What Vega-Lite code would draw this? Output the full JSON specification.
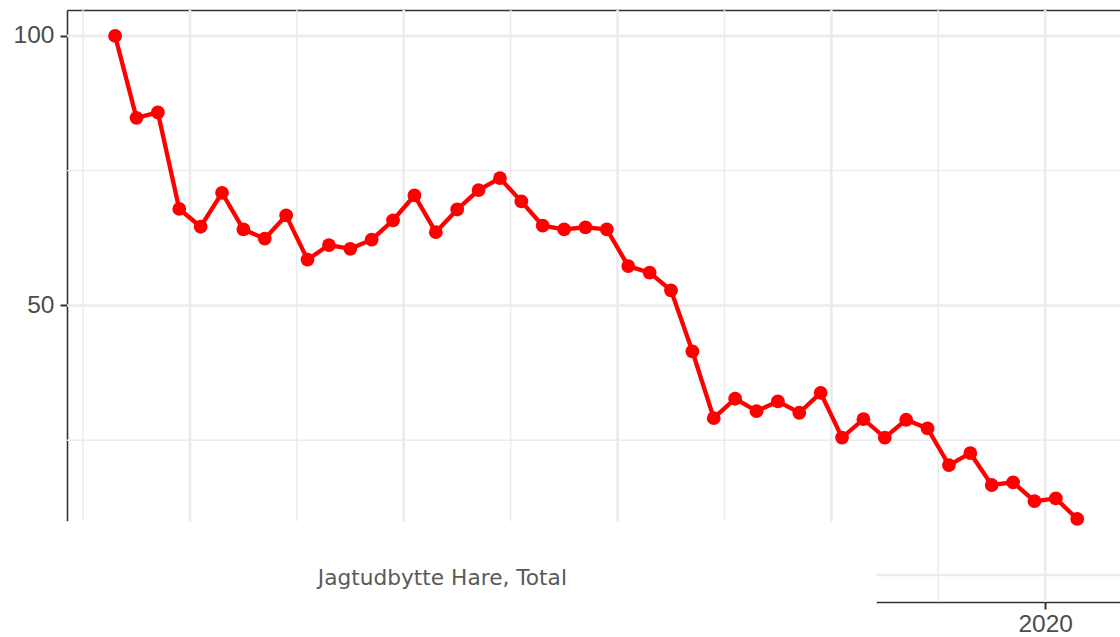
{
  "$schema": "https://vega.github.io/schema/vega-lite/v6.json",
  "width": 1053,
  "height": 592,
  "autosize": {"type": "none"},
  "padding": {"left": 67, "top": 10, "right": 0, "bottom": 35},
  "background": "white",
  "config": {
    "view": {"stroke": null},
    "axis": {
      "grid": false,
      "domainColor": "#333333",
      "domainWidth": 1.6,
      "tickColor": "#333333",
      "tickWidth": 2,
      "tickSize": 7,
      "labelFont": "Liberation Sans",
      "labelFontSize": 24.5,
      "labelColor": "#4D4D4D",
      "labelPadding": 6
    }
  },
  "datasets": {
    "hare": [
      {"year": 1976.5, "value": 100},
      {"year": 1977.5, "value": 84.8},
      {"year": 1978.5, "value": 85.8},
      {"year": 1979.5, "value": 67.9},
      {"year": 1980.5, "value": 64.6},
      {"year": 1981.5, "value": 70.9},
      {"year": 1982.5, "value": 64.1},
      {"year": 1983.5, "value": 62.4},
      {"year": 1984.5, "value": 66.7},
      {"year": 1985.5, "value": 58.5},
      {"year": 1986.5, "value": 61.2},
      {"year": 1987.5, "value": 60.5},
      {"year": 1988.5, "value": 62.2},
      {"year": 1989.5, "value": 65.8},
      {"year": 1990.5, "value": 70.4},
      {"year": 1991.5, "value": 63.6},
      {"year": 1992.5, "value": 67.8},
      {"year": 1993.5, "value": 71.4},
      {"year": 1994.5, "value": 73.6},
      {"year": 1995.5, "value": 69.3},
      {"year": 1996.5, "value": 64.8},
      {"year": 1997.5, "value": 64.1},
      {"year": 1998.5, "value": 64.5},
      {"year": 1999.5, "value": 64.1},
      {"year": 2000.5, "value": 57.3},
      {"year": 2001.5, "value": 56.1},
      {"year": 2002.5, "value": 52.8},
      {"year": 2003.5, "value": 41.5},
      {"year": 2004.5, "value": 29.1},
      {"year": 2005.5, "value": 32.7},
      {"year": 2006.5, "value": 30.4},
      {"year": 2007.5, "value": 32.2},
      {"year": 2008.5, "value": 30.1},
      {"year": 2009.5, "value": 33.8},
      {"year": 2010.5, "value": 25.5},
      {"year": 2011.5, "value": 28.9},
      {"year": 2012.5, "value": 25.5},
      {"year": 2013.5, "value": 28.8},
      {"year": 2014.5, "value": 27.2},
      {"year": 2015.5, "value": 20.4},
      {"year": 2016.5, "value": 22.6},
      {"year": 2017.5, "value": 16.7},
      {"year": 2018.5, "value": 17.2},
      {"year": 2019.5, "value": 13.7},
      {"year": 2020.5, "value": 14.2},
      {"year": 2021.5, "value": 10.4}
    ],
    "gridMajorY": [{"value": 0}, {"value": 50}, {"value": 100}],
    "gridMinorY": [{"value": 25}, {"value": 75}],
    "gridMajorX": [{"year": 1980}, {"year": 1990}, {"year": 2000}, {"year": 2010}, {"year": 2020}],
    "gridMinorX": [{"year": 1975}, {"year": 1985}, {"year": 1995}, {"year": 2005}, {"year": 2015}],
    "mask": [{"year": 1970, "year2": 2012.12, "value": -15, "value2": 10}],
    "label": [{"year": 1985.98, "value": -1.78, "label": "Jagtudbytte Hare, Total"}]
  },
  "layer": [
    {
      "data": {"name": "gridMinorX"},
      "mark": {"type": "rule", "color": "#EBEBEB", "strokeWidth": 1.4},
      "encoding": {
        "x": {
          "field": "year", "type": "quantitative", "title": null,
          "scale": {"domain": [1974.25, 2023.5], "nice": false, "zero": false},
          "axis": {"orient": "top", "labels": false, "ticks": false, "domain": true, "grid": false, "title": null}
        }
      }
    },
    {
      "layer": [
        {
          "data": {"name": "gridMinorY"},
          "mark": {"type": "rule", "color": "#EBEBEB", "strokeWidth": 1.4},
          "encoding": {
            "y": {"field": "value", "type": "quantitative", "title": null}
          }
        },
        {
          "data": {"name": "gridMajorY"},
          "mark": {"type": "rule", "color": "#EBEBEB", "strokeWidth": 2.6},
          "encoding": {
            "y": {"field": "value", "type": "quantitative", "title": null}
          }
        },
        {
          "data": {"name": "gridMajorX"},
          "mark": {"type": "rule", "color": "#EBEBEB", "strokeWidth": 2.6},
          "encoding": {
            "x": {"field": "year", "type": "quantitative", "title": null}
          }
        },
        {
          "data": {"name": "hare"},
          "mark": {"type": "line", "color": "#FF0000", "strokeWidth": 4.3},
          "encoding": {
            "x": {
              "field": "year", "type": "quantitative", "title": null,
              "scale": {"domain": [1974.25, 2023.5], "nice": false, "zero": false},
              "axis": {"orient": "bottom", "values": [1980, 1990, 2000, 2010, 2020], "format": "d", "labelPadding": 3, "title": null}
            },
            "y": {
              "field": "value", "type": "quantitative", "title": null,
              "scale": {"domain": [-5, 104.8], "nice": false, "zero": false},
              "axis": {"orient": "left", "values": [0, 50, 100], "title": null}
            }
          }
        },
        {
          "data": {"name": "hare"},
          "mark": {"type": "point", "filled": true, "color": "#FF0000", "size": 190, "opacity": 1},
          "encoding": {
            "x": {"field": "year", "type": "quantitative", "title": null},
            "y": {"field": "value", "type": "quantitative", "title": null}
          }
        },
        {
          "data": {"name": "mask"},
          "mark": {"type": "rect", "color": "white", "opacity": 1},
          "encoding": {
            "x": {"field": "year", "type": "quantitative", "title": null},
            "x2": {"field": "year2"},
            "y": {"field": "value", "type": "quantitative", "title": null},
            "y2": {"field": "value2"}
          }
        },
        {
          "data": {"name": "label"},
          "mark": {"type": "text", "font": "DejaVu Sans", "fontSize": 21.7, "color": "#5A5A5A", "align": "left", "baseline": "alphabetic"},
          "encoding": {
            "x": {"field": "year", "type": "quantitative", "title": null},
            "y": {"field": "value", "type": "quantitative", "title": null},
            "text": {"field": "label"}
          }
        }
      ]
    }
  ],
  "resolve": {"axis": {"x": "independent"}}
}
